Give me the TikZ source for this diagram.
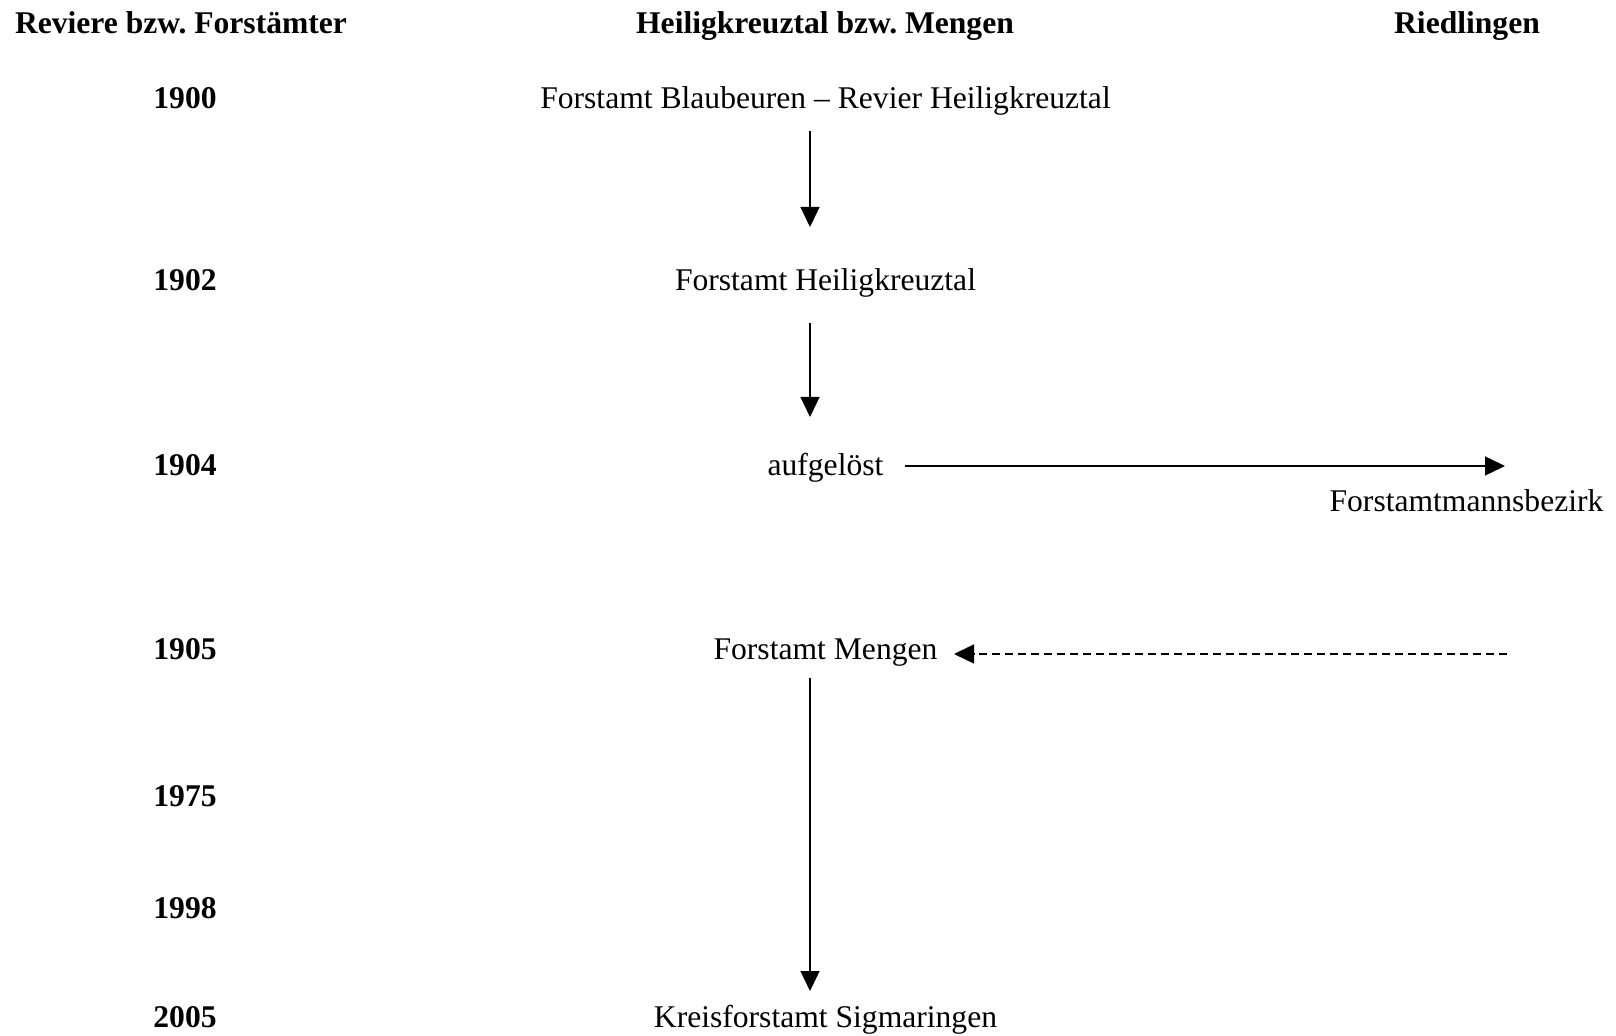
\documentclass[tikz,border=0pt]{standalone}
\usepackage{fontspec}
\setmainfont{Liberation Serif}
\usetikzlibrary{arrows.meta}
\frenchspacing
\begin{document}
\begin{tikzpicture}[x=0.5pt,y=-0.5pt,
  txt/.style={inner sep=0pt,anchor=base,font=\fontsize{15.8}{18}\selectfont},
  head/.style={txt,font=\fontsize{15.8}{18}\selectfont\bfseries},
  yr/.style={head},
  arr/.style={line width=0.7pt,-{Triangle[length=10pt,width=9.5pt]}},
  darr/.style={arr,dash pattern=on 4pt off 2.5pt}]
\useasboundingbox (0,0) rectangle (1616,1036);
\node[head] (h1) at (181,34) {Reviere bzw. Forstämter};
\node[head] (h2) at (825,34) {Heiligkreuztal bzw. Mengen};
\node[head] (h3) at (1467,34) {Riedlingen};
\node[yr] (y1900) at (185,109) {1900};
\node[yr] (y1902) at (185,291) {1902};
\node[yr] (y1904) at (185,476) {1904};
\node[yr] (y1905) at (185,660) {1905};
\node[yr] (y1975) at (185,806) {1975};
\node[yr] (y1998) at (185,918) {1998};
\node[yr] (y2005) at (185,1027) {2005};
\node[txt] (a) at (825.5,109) {Forstamt Blaubeuren – Revier Heiligkreuztal};
\node[txt] (b) at (825.5,291) {Forstamt Heiligkreuztal};
\node[txt] (c) at (825.5,476) {aufgelöst};
\node[txt] (d) at (825.5,660) {Forstamt Mengen};
\node[txt] (e) at (825.5,1027) {Kreisforstamt Sigmaringen};
\node[txt] (f) at (1466.5,512) {Forstamtmannsbezirk};
\coordinate (a1) at (810,131);
\coordinate (a2) at (810,227);
\coordinate (b1) at (810,323);
\coordinate (b2) at (810,417);
\coordinate (c1) at (905,466);
\coordinate (c2) at (1505,466);
\coordinate (d1) at (1507,654);
\coordinate (d2) at (954,654);
\coordinate (e1) at (810,678);
\coordinate (e2) at (810,991);
\draw[arr] (a1) -- (a2);
\draw[arr] (b1) -- (b2);
\draw[arr] (c1) -- (c2);
\draw[darr] (d1) -- (d2);
\draw[arr] (e1) -- (e2);
\end{tikzpicture}
\end{document}
